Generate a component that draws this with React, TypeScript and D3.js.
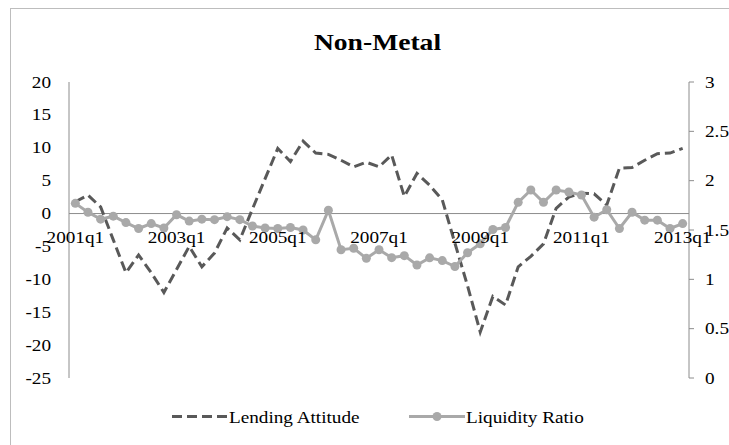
import React from "react";
import * as d3 from "d3";

const quarters: string[] = [
  "2001q1","2001q2","2001q3","2001q4","2002q1","2002q2","2002q3","2002q4",
  "2003q1","2003q2","2003q3","2003q4","2004q1","2004q2","2004q3","2004q4",
  "2005q1","2005q2","2005q3","2005q4","2006q1","2006q2","2006q3","2006q4",
  "2007q1","2007q2","2007q3","2007q4","2008q1","2008q2","2008q3","2008q4",
  "2009q1","2009q2","2009q3","2009q4","2010q1","2010q2","2010q3","2010q4",
  "2011q1","2011q2","2011q3","2011q4","2012q1","2012q2","2012q3","2012q4",
  "2013q1",
];

const lendingAttitude: number[] = [
  1.8, 2.8, 1.0, -4, -9, -6.3, -9, -12, -8.5, -5, -8.1, -6, -2.2, -4, 0.7, 5.3,
  9.9, 7.9, 11.0, 9.2, 9.0, 8.1, 7.1, 7.8, 7.1, 8.9, 2.6, 6.1, 4.3, 2.1, -4.5, -11,
  -18, -12.6, -13.9, -8.1, -6.5, -4.6, 0.8, 2.5, 3.1, 3.0, 1.3, 6.9, 7.0, 8.1, 9.1, 9.2,
  9.9,
];

const liquidityRatio: number[] = [
  1.77, 1.68, 1.61, 1.64, 1.575, 1.515, 1.565, 1.52, 1.655, 1.59, 1.61, 1.605, 1.635, 1.605, 1.54, 1.52,
  1.515, 1.525, 1.5, 1.4, 1.7, 1.3, 1.315, 1.213, 1.3, 1.22, 1.24, 1.145, 1.218, 1.19, 1.13, 1.27,
  1.36, 1.505, 1.525, 1.78, 1.905, 1.78, 1.905, 1.885, 1.855, 1.63, 1.705, 1.515, 1.68, 1.6, 1.6, 1.515,
  1.565,
];

const xTickLabels: string[] = ["2001q1", "2003q1", "2005q1", "2007q1", "2009q1", "2011q1", "2013q1"];
const leftTicks: number[] = [20, 15, 10, 5, 0, -5, -10, -15, -20, -25];
const rightTicks: number[] = [3, 2.5, 2, 1.5, 1, 0.5, 0];

const W = 729;
const H = 445;
const L = 69;
const R = 689;
const T = 82;
const B = 378;
const SX = 1.2;
const FONT = "Liberation Serif, Times New Roman, DejaVu Serif, serif";

const txt: React.CSSProperties = { fontFamily: FONT };

export default function App() {
  const x = d3.scaleBand<string>().domain(quarters).range([L, R]);
  const cx = (q: string) => (x(q) as number) + x.bandwidth() / 2;
  const yL = d3.scaleLinear().domain([-25, 20]).range([B, T]);
  const yR = d3.scaleLinear().domain([0, 3]).range([B, T]);

  const lendLine = d3
    .line<number>()
    .x((_, i) => cx(quarters[i]))
    .y((d) => yL(d));
  const liqLine = d3
    .line<number>()
    .x((_, i) => cx(quarters[i]))
    .y((d) => yR(d));

  const dashColor = "#595959";
  const liqColor = "#a9a9a9";

  return (
    <svg
      width={W}
      height={H}
      style={{ position: "absolute", left: 0, top: 0, background: "#fff" }}
    >
      <rect x={0} y={0} width={W} height={H} fill="#fff" />
      <rect x={10.5} y={8.5} width={W + 20} height={H + 20} fill="none" stroke="#bdbdbd" strokeWidth={1} />

      <text
        style={txt}
        transform={`translate(${W / 2 + 13},50) scale(${SX},1)`}
        textAnchor="middle"
        fontSize={23}
        fontWeight="bold"
        fill="#000"
      >
        Non-Metal
      </text>

      {/* axes */}
      <line x1={L} x2={L} y1={T} y2={B} stroke="#8c8c8c" strokeWidth={1} />
      <line x1={R} x2={R} y1={T} y2={B} stroke="#8c8c8c" strokeWidth={1} />
      <line x1={L} x2={R} y1={yL(0)} y2={yL(0)} stroke="#8c8c8c" strokeWidth={1} />

      {leftTicks.map((t) => (
        <text
          key={"l" + t}
          style={txt}
          transform={`translate(51,${yL(t) + 5.5}) scale(${SX},1)`}
          textAnchor="end"
          fontSize={16}
          fill="#000"
        >
          {t}
        </text>
      ))}

      {rightTicks.map((t) => (
        <g key={"r" + t}>
          <line x1={R} x2={R + 5} y1={yR(t)} y2={yR(t)} stroke="#8c8c8c" strokeWidth={1} />
          <text
            style={txt}
            transform={`translate(705,${yR(t) + 5.5}) scale(${SX},1)`}
            textAnchor="start"
            fontSize={16}
            fill="#000"
          >
            {t}
          </text>
        </g>
      ))}

      {/* series */}
      <path
        d={lendLine(lendingAttitude) || ""}
        fill="none"
        stroke={dashColor}
        strokeWidth={3}
        strokeDasharray="10,5"
      />
      <path d={liqLine(liquidityRatio) || ""} fill="none" stroke={liqColor} strokeWidth={3} />
      {liquidityRatio.map((v, i) => (
        <circle key={"m" + i} cx={cx(quarters[i])} cy={yR(v)} r={4.5} fill={liqColor} />
      ))}

      {/* x labels */}
      {xTickLabels.map((q) => (
        <text
          key={"x" + q}
          style={txt}
          transform={`translate(${cx(q)},243) scale(${SX},1)`}
          textAnchor="middle"
          fontSize={16}
          fill="#000"
        >
          {q}
        </text>
      ))}

      {/* legend */}
      <line x1={172} x2={228} y1={416.5} y2={416.5} stroke={dashColor} strokeWidth={3} strokeDasharray="10,5" />
      <text style={txt} transform={`translate(229,423) scale(${SX},1)`} fontSize={16} fill="#000">
        Lending Attitude
      </text>
      <line x1={409} x2={465} y1={416.5} y2={416.5} stroke={liqColor} strokeWidth={3} />
      <circle cx={437} cy={416.5} r={4.5} fill={liqColor} />
      <text style={txt} transform={`translate(466,423) scale(${SX},1)`} fontSize={16} fill="#000">
        Liquidity Ratio
      </text>
    </svg>
  );
}
